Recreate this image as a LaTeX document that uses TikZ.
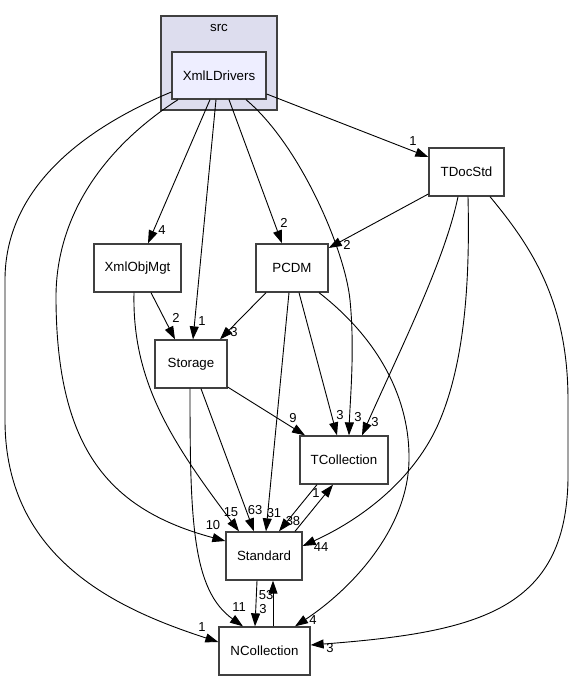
\documentclass[tikz,border=0pt]{standalone}
\usepackage{fontspec}
\setmainfont{Liberation Sans}
\usetikzlibrary{arrows.meta}
\definecolor{boxgray}{HTML}{404040}
\definecolor{clusterfill}{HTML}{DDDDEE}
\definecolor{xmlfill}{HTML}{EEEEFF}
\begin{document}
\begin{tikzpicture}[x=1pt,y=-1pt,
  box/.style={draw=boxgray, line width=1.3pt, fill=white, minimum height=48pt,
    inner sep=0pt, font=\fontsize{13.3}{16}\selectfont},
  edge/.style={draw=black, line width=0.9pt, -{Triangle[length=13pt,width=9pt]}},
  lbl/.style={font=\fontsize{13}{15}\selectfont, inner sep=0pt}]
\useasboundingbox (0,0) rectangle (573,681);
% cluster
\node[box, fill=clusterfill, minimum width=116pt, minimum height=94pt] (src) at (219,63) {};
\node[lbl, font=\fontsize{13.3}{16}\selectfont] (srclbl) at (219,28) {src};
% nodes
\node[box, fill=xmlfill, minimum width=94pt, minimum height=47pt] (xmlld) at (219,75.5) {XmlLDrivers};
\node[box, minimum width=75pt] (tdoc) at (466.5,172) {TDocStd};
\node[box, minimum width=87pt] (xobj) at (137.5,268) {XmlObjMgt};
\node[box, minimum width=72pt] (pcdm) at (292,268) {PCDM};
\node[box, minimum width=72pt] (stor) at (191,364) {Storage};
\node[box, minimum width=88pt] (tcoll) at (344,460) {TCollection};
\node[box, minimum width=76pt] (std) at (264,556) {Standard};
\node[box, minimum width=91pt] (ncoll) at (264.5,651) {NCollection};
% edges from XmlLDrivers
\draw[edge] ([yshift=-18.5pt]xmlld.east) -- ([yshift=15pt]tdoc.west);
\node[lbl] (l1) at (413,141) {1};
\draw[edge] ([xshift=-9pt]xmlld.south) -- ([xshift=10.5pt]xobj.north);
\node[lbl] (l2) at (162,230) {4};
\draw[edge] ([xshift=-3pt]xmlld.south) -- ([xshift=2pt]stor.north);
\node[lbl] (l3) at (202,321) {1};
\draw[edge] ([xshift=10pt]xmlld.south) -- ([xshift=-10pt]pcdm.north);
\node[lbl] (l4) at (284,223) {2};
\draw[edge] ([xshift=27pt]xmlld.south) .. controls (300,145) and (345,250) .. (350,300)
  .. controls (355,350) and (350,400) .. ([xshift=5pt]tcoll.north);
\node[lbl] (l5) at (358,417) {3};
\draw[edge] ([xshift=-41pt]xmlld.south) .. controls (100,150) and (55,220) .. (56,300)
  .. controls (57,450) and (110,510) .. ([yshift=15pt]std.west);
\node[lbl] (l6) at (213,525) {10};
\draw[edge] ([yshift=-16.5pt]xmlld.west) .. controls (80,130) and (5,190) .. (5,280)
  -- (5,420) .. controls (5,560) and (120,610) .. ([yshift=9pt]ncoll.west);
\node[lbl] (l7) at (202,627) {1};
% edges from TDocStd
\draw[edge] ([yshift=-22pt]tdoc.west) -- ([yshift=20pt]pcdm.east);
\node[lbl] (l8) at (347,245) {2};
\draw[edge] ([xshift=-8.5pt]tdoc.south) .. controls (445,260) and (400,350) .. ([xshift=18pt]tcoll.north);
\node[lbl] (l9) at (375,422) {3};
\draw[edge] ([xshift=1.5pt]tdoc.south) .. controls (470,280) and (465,360) .. (440,420)
  .. controls (415,480) and (360,520) .. ([yshift=10pt]std.east);
\node[lbl] (l10) at (321,547) {44};
\draw[edge] ([xshift=23.5pt]tdoc.south) .. controls (530,245) and (568,300) .. (568,400)
  -- (568,470) .. controls (570,610) and (480,632) .. ([yshift=6pt]ncoll.east);
\node[lbl] (l11) at (330,648) {3};
% edges from XmlObjMgt
\draw[edge] ([xshift=13.5pt]xobj.south) -- ([xshift=-16pt]stor.north);
\node[lbl] (l12) at (176,318) {2};
\draw[edge] ([xshift=-3.5pt]xobj.south) .. controls (132,380) and (170,440) .. ([xshift=-25pt]std.north);
\node[lbl] (l13) at (231,512) {15};
% edges from PCDM
\draw[edge] ([xshift=-26pt]pcdm.south) -- ([xshift=29pt]stor.north);
\node[lbl] (l14) at (234,332) {3};
\draw[edge] ([xshift=-3pt]pcdm.south) -- ([xshift=2pt]std.north);
\node[lbl] (l15) at (274,513) {31};
\draw[edge] ([xshift=7pt]pcdm.south) -- ([xshift=-7pt]tcoll.north);
\node[lbl] (l16) at (340,415) {3};
\draw[edge] ([xshift=27pt]pcdm.south) .. controls (380,340) and (410,400) .. (409,460)
  .. controls (408,530) and (350,590) .. ([xshift=30.5pt]ncoll.north);
\node[lbl] (l17) at (313,620) {4};
% edges from Storage
\draw[edge] ([yshift=-23pt]stor.east) -- ([xshift=-39pt]tcoll.north);
\node[lbl] (l18) at (293,418) {9};
\draw[edge] ([xshift=10pt]stor.south) -- ([xshift=-10pt]std.north);
\node[lbl] (l19) at (255,510) {63};
\draw[edge] ([xshift=-1pt]stor.south) .. controls (190,520) and (192,590) .. ([xshift=-21.5pt]ncoll.north);
\node[lbl] (l20) at (239,607) {11};
% TCollection / Standard / NCollection
\draw[edge] ([xshift=-27pt]tcoll.south) -- ([xshift=15pt]std.north);
\node[lbl] (l21) at (293,521) {38};
\draw[edge] ([xshift=31pt]std.north) -- ([xshift=-11pt]tcoll.south);
\node[lbl] (l22) at (316,493) {1};
\draw[edge] ([xshift=-7pt]std.south) -- ([xshift=-9.5pt]ncoll.north);
\node[lbl] (l23) at (263,609) {3};
\draw[edge] ([xshift=8.5pt]ncoll.north) -- ([xshift=9pt]std.south);
\node[lbl] (l24) at (266,595) {53};
\end{tikzpicture}
\end{document}
